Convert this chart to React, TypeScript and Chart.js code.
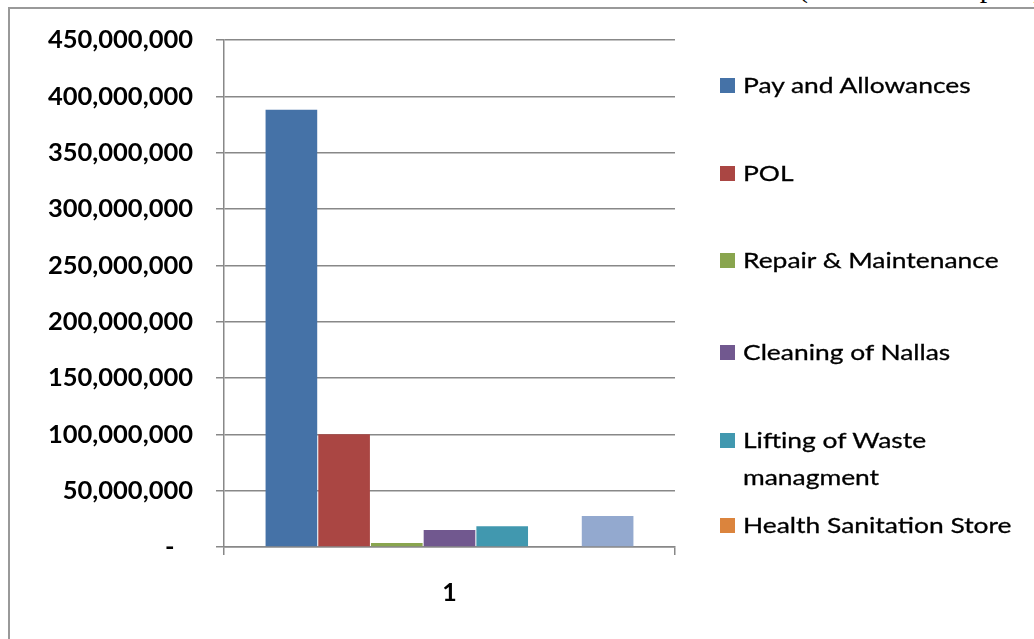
import React, { useEffect, useRef } from "react";
import { Chart, registerables } from "chart.js";

Chart.register(...registerables);

const categories = ["1"];
const seriesNames = [
  "Pay and Allowances",
  "POL",
  "Repair & Maintenance",
  "Cleaning of Nallas",
  "Lifting of Waste managment",
  "Health Sanitation Store",
  "",
];
const payAndAllowances = [388000000];
const pol = [100000000];
const repairMaintenance = [3500000];
const cleaningOfNallas = [15000000];
const liftingOfWaste = [18500000];
const healthSanitationStore = [0];
const unlabeledSeries = [27500000];
const seriesColors = ["#4572A7", "#AA4643", "#89A54E", "#71588F", "#4198AF", "#DB843D", "#93A9CF"];
const yMin = 0;
const yMax = 450000000;
const yStep = 50000000;

const legendLines: string[][] = [
  ["Pay and Allowances"],
  ["POL"],
  ["Repair & Maintenance"],
  ["Cleaning of Nallas"],
  ["Lifting of Waste", "managment"],
  ["Health Sanitation Store"],
];
const legendBaselines = [93, 181, 268, 360, 448, 533];

export default function App() {
  const ref = useRef<HTMLCanvasElement | null>(null);

  useEffect(() => {
    if (!ref.current) return;
    const values = [
      payAndAllowances,
      pol,
      repairMaintenance,
      cleaningOfNallas,
      liftingOfWaste,
      healthSanitationStore,
      unlabeledSeries,
    ];
    const chart = new Chart(ref.current, {
      type: "bar",
      data: {
        labels: categories,
        datasets: values.map((v, i) => ({
          label: seriesNames[i],
          data: v,
          backgroundColor: seriesColors[i],
          borderWidth: 0,
          categoryPercentage: 0.818,
          barPercentage: 0.98,
        })),
      },
      options: {
        responsive: false,
        animation: false,
        layout: { padding: { left: 0, right: 359, top: 40, bottom: 0 } },
        plugins: { legend: { display: false }, tooltip: { enabled: false } },
        scales: {
          x: {
            afterFit: (s: any) => {
              s.height = 92;
            },
            grid: {
              drawOnChartArea: false,
              drawTicks: true,
              tickLength: 8,
              color: "#888888",
              lineWidth: 1.5,
              offset: true,
            },
            border: { display: true, color: "#888888", width: 1.5 },
            ticks: {
              color: "#000000",
              padding: 23,
              font: { family: "Lato", size: 25, weight: "bold" },
            },
          },
          y: {
            min: yMin,
            max: yMax,
            afterFit: (s: any) => {
              s.width = 224;
            },
            grid: {
              color: "#888888",
              lineWidth: 1.5,
              drawTicks: true,
              tickLength: 8,
            },
            border: { display: true, color: "#888888", width: 1.5 },
            ticks: {
              stepSize: yStep,
              color: "#000000",
              padding: 23,
              font: { family: "Lato", size: 25.5, weight: "bold" },
              callback: (v: any) => (Number(v) === 0 ? "-   " : Number(v).toLocaleString("en-US")),
            },
          },
        },
      },
    });
    return () => chart.destroy();
  }, []);

  return (
    <div
      style={{
        position: "fixed",
        left: 0,
        top: 0,
        width: 1034,
        height: 639,
        background: "#ffffff",
        overflow: "hidden",
      }}
    >
      <div
        style={{
          position: "absolute",
          left: 798,
          top: -28,
          fontFamily: "'Liberation Serif', serif",
          fontSize: 30,
          lineHeight: "30px",
          whiteSpace: "nowrap",
          color: "#000",
        }}
      >
        (Amount in Rupees)
      </div>
      <div
        style={{
          position: "absolute",
          left: 8,
          top: 7,
          width: 1040,
          height: 700,
          borderTop: "2px solid #999999",
          borderLeft: "2px solid #999999",
        }}
      />
      <canvas ref={ref} width={1034} height={639} style={{ position: "absolute", left: 0, top: 0 }} />
      {legendLines.map((lines, i) => (
        <React.Fragment key={i}>
          <div
            style={{
              position: "absolute",
              left: 720,
              top: legendBaselines[i] - 15,
              width: 15,
              height: 15,
              background: seriesColors[i],
            }}
          />
          {lines.map((t, j) => (
            <div
              key={j}
              style={{
                position: "absolute",
                left: 743,
                top: legendBaselines[i] + j * 37 - 19.5,
                fontFamily: "Lato",
                fontSize: 22,
                lineHeight: "22px",
                whiteSpace: "nowrap",
                color: "#000",
                transform: "scaleX(1.2)",
                transformOrigin: "left center",
                WebkitTextStroke: "0.3px #000",
              }}
            >
              {t}
            </div>
          ))}
        </React.Fragment>
      ))}
    </div>
  );
}
